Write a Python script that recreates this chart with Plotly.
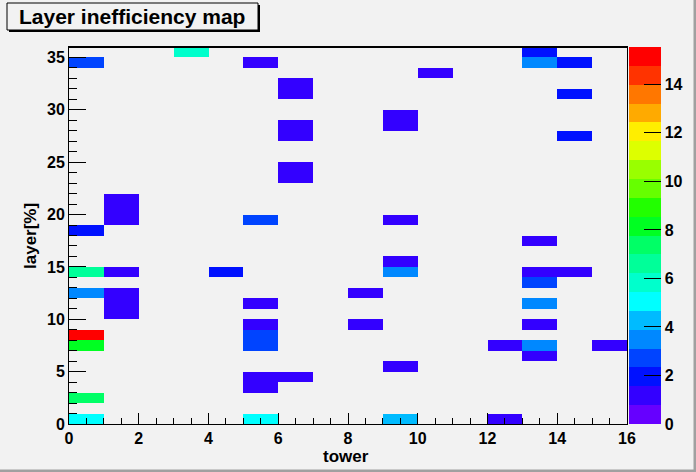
import plotly.graph_objects as go

# ---- data ----
n_towers = 16
n_layers = 36
cell_tower = [0, 3, 5, 13, 13, 14, 10, 6, 6, 14, 9, 9, 6, 6, 14, 6, 6, 1, 1, 1, 5, 9, 0, 13,
              9, 0, 1, 4, 9, 13, 14, 13, 0, 1, 1, 1, 8, 5, 13, 5, 8, 13, 0, 0, 5, 5, 12, 13,
              15, 13, 9, 5, 6, 5, 0, 0, 5, 9, 12]
cell_layer = [34, 35, 34, 35, 34, 34, 33, 32, 31, 31, 29, 28, 28, 27, 27, 24, 23, 21, 20, 19, 19, 19, 18, 17,
              15, 14, 14, 14, 14, 14, 14, 13, 12, 12, 11, 10, 12, 11, 11, 9, 9, 9, 8, 7, 8, 7, 7, 7,
              7, 6, 5, 4, 4, 3, 2, 0, 0, 0, 0]
cell_value = [2.7, 5.8, 1.2, 1.9, 3.5, 1.9, 1.2, 1.2, 1.2, 1.9, 1.2, 1.2, 1.2, 1.2, 1.9, 1.2, 1.2, 1.2, 1.2, 1.2, 2.7, 1.2, 1.9, 1.2,
              1.2, 6.6, 1.2, 1.9, 3.5, 1.2, 1.2, 2.7, 3.5, 1.2, 1.2, 1.2, 1.2, 1.2, 3.5, 1.2, 1.2, 1.2, 15.5, 8.2, 2.7, 2.7, 1.2, 3.5,
              1.2, 1.2, 1.2, 1.2, 1.2, 1.2, 7.4, 5.1, 5.1, 4.3, 1.2]
z_max = 15.54
x_ticks = list(range(0, 17, 2))
cbar_ticks = list(range(0, 15, 2))

palette = ['#6600ff', '#3300ff', '#0011ff', '#0044ff', '#0088ff', '#00bbff', '#00ffff',
           '#00ffcc', '#00ff99', '#00ff66', '#00ff22', '#22ff00', '#66ff00', '#99ff00',
           '#ddff00', '#ffee00', '#ffaa00', '#ff7700', '#ff3300', '#ff0000']

# ---- build matrix ----
z = [[None] * n_towers for _ in range(n_layers)]
for t, l, v in zip(cell_tower, cell_layer, cell_value):
    z[l][t] = v

colorscale = []
n = len(palette)
for i, c in enumerate(palette):
    colorscale.append([i / n, c])
    colorscale.append([(i + 1) / n, c])

W, H = 696, 472
ML, MR, MT, MB = 69, 69, 47, 48
PW = W - ML - MR
PH = H - MT - MB


def px(xp):
    return (xp - ML) / PW


def py(yp):
    return (H - MB - yp) / PH


FONT = "Liberation Sans"
BG = "#f2f2f2"
TICKFONT = dict(family=FONT, size=16, color="black", weight="bold")

fig = go.Figure(go.Heatmap(
    z=z, x0=0.5, dx=1, y0=0.5, dy=1,
    zmin=0, zmax=z_max, colorscale=colorscale,
    hoverongaps=False,
    colorbar=dict(
        x=px(629), xanchor="left", y=0, yanchor="bottom",
        len=1, lenmode="fraction", thickness=32, thicknessmode="pixels",
        xpad=0, ypad=0, outlinewidth=0,
        tickmode="array", tickvals=cbar_ticks,
        ticks="inside", ticklen=17, tickcolor="black", tickwidth=1,
        tickfont=TICKFONT,
    ),
))

fig.update_layout(
    width=W, height=H,
    margin=dict(l=ML, r=MR, t=MT, b=MB, pad=0, autoexpand=False),
    paper_bgcolor=BG, plot_bgcolor=BG,
    showlegend=False,
    xaxis=dict(
        range=[0, n_towers], tickmode="array", tickvals=x_ticks,
        ticks="inside", ticklen=11, tickcolor="black", tickwidth=1,
        minor=dict(dtick=0.5, tick0=0, ticks="inside", ticklen=6, tickcolor="black", tickwidth=1),
        showgrid=False, zeroline=False, showline=True, linecolor="black", linewidth=1,
        mirror=True, automargin=False, tickfont=TICKFONT,
    ),
    yaxis=dict(
        range=[0, n_layers], tickmode="linear", tick0=0, dtick=5,
        ticks="inside", ticklen=17, tickcolor="black", tickwidth=1,
        minor=dict(dtick=1, tick0=0, ticks="inside", ticklen=8, tickcolor="black", tickwidth=1),
        showgrid=False, zeroline=False, showline=True, linecolor="black", linewidth=1,
        mirror=True, automargin=False, tickfont=TICKFONT,
    ),
)

shapes = [
    # thicker top frame line
    dict(type="line", xref="paper", yref="paper", x0=0, x1=1, y0=1, y1=1,
         line=dict(color="black", width=2)),
    # canvas bevel (bottom / right)
    dict(type="line", xref="paper", yref="paper", x0=px(0), x1=px(W), y0=py(H - 1), y1=py(H - 1),
         line=dict(color="#a0a0a0", width=3)),
    dict(type="line", xref="paper", yref="paper", x0=px(W - 1), x1=px(W - 1), y0=py(0), y1=py(H),
         line=dict(color="#a0a0a0", width=3)),
    # title box shadow
    dict(type="rect", xref="paper", yref="paper", x0=px(9), x1=px(260), y0=py(32), y1=py(5),
         fillcolor="black", line=dict(width=0)),
    # title box
    dict(type="rect", xref="paper", yref="paper", x0=px(7), x1=px(258), y0=py(30), y1=py(3),
         fillcolor=BG, line=dict(color="black", width=1)),
]
fig.update_layout(shapes=shapes)

fig.add_annotation(text="<b>Layer inefficiency map</b>", xref="paper", yref="paper",
                   x=px(132), y=py(17), xanchor="center", yanchor="middle", showarrow=False,
                   font=dict(family=FONT, size=21, color="black"))
fig.add_annotation(text="<b>tower</b>", xref="paper", yref="paper",
                   x=px(346), y=py(457), xanchor="center", yanchor="middle", showarrow=False,
                   font=dict(family=FONT, size=17, color="black"))
fig.add_annotation(text="<b>layer[%]</b>", xref="paper", yref="paper",
                   x=px(30), y=py(236), xanchor="center", yanchor="middle", showarrow=False,
                   textangle=-90, font=dict(family=FONT, size=17, color="black"))

fig.write_html("out.html", config={"displayModeBar": False},
               post_script="document.body.style.margin='0';document.body.style.padding='0';")
